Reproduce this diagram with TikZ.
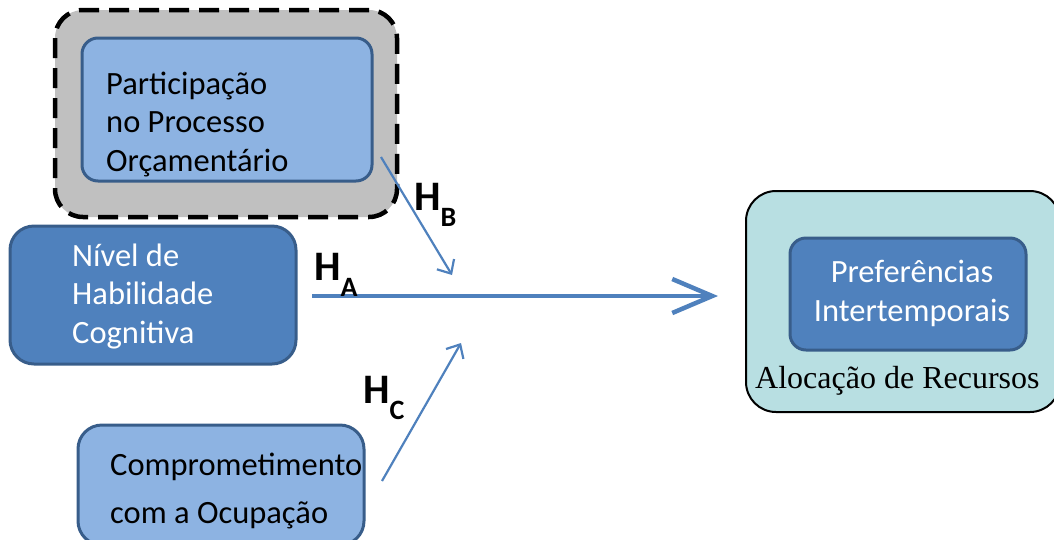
\documentclass[tikz,border=0pt]{standalone}
\usepackage{fontspec}
\setmainfont{Carlito}
\newfontfamily\timesfont{Liberation Serif}
\usetikzlibrary{arrows.meta}
\usetikzlibrary{positioning}
\definecolor{lightblue}{HTML}{8DB3E2}
\definecolor{midblue}{HTML}{4F81BD}
\definecolor{darkblue}{HTML}{385D8A}
\definecolor{greyfill}{HTML}{C0C0C0}
\definecolor{tealfill}{HTML}{B8DFE2}
\tikzset{box/.style = {rectangle, rounded corners=16pt, draw=darkblue,
                       line width=3pt, inner sep=0}}
\tikzset{boxtext/.style = {align=left, font=\fontsize{32.5}{38.5}\selectfont,
                           anchor=base west, inner sep=0}}
\tikzset{hyp/.style = {anchor=base west, inner sep=0,
                       font=\fontsize{42}{42}\selectfont\bfseries}}
\tikzset{link/.style = {draw=midblue, line width=2.2pt,
                        -{Straight Barb[length=11pt, width=20pt]}}}
\newcommand{\hsub}[1]{H\raisebox{-16pt}{\fontsize{28}{28}\selectfont #1}}

\begin{document}
\begin{tikzpicture}[x=1pt, y=-1pt]
    \useasboundingbox (0, 0) rectangle (1054, 539);
    \clip (0, 0) rectangle (1054, 539);

    \node [rectangle, rounded corners=28pt, fill=greyfill, draw, line width=4.5pt,
           dash pattern=on 20pt off 10pt, minimum width=342pt, minimum height=207pt]
          (group) at (226, 113.5) {};
    \node [box, fill=lightblue, minimum width=290pt, minimum height=143pt]
          (part) at (227, 109.5) {};
    \node [boxtext] (parttext) at (106, 171) {Participação\\no Processo\\Orçamentário};

    \node [box, rounded corners=24pt, fill=midblue, minimum width=286pt, minimum height=138pt]
          (nivel) at (153, 295) {};
    \node [boxtext, text=white] (niveltext) at (72, 343) {Nível de\\Habilidade\\Cognitiva};

    \node [box, rounded corners=24pt, fill=lightblue, minimum width=286pt, minimum height=120pt]
          (comp) at (221, 485) {};
    \node [boxtext, font=\fontsize{32.5}{48}\selectfont] (comptext) at (110, 523)
          {Comprometimento\\com a Ocupação};

    \node [rectangle, rounded corners=30pt, fill=tealfill, draw, line width=2pt,
           minimum width=314pt, minimum height=221pt] (aloc) at (903, 301.5) {};
    \node [box, fill=midblue, minimum width=236pt, minimum height=112pt]
          (pref) at (908, 294) {};
    \node [boxtext, align=center, anchor=base, text=white] (preftext) at (912, 321)
          {Preferências\\Intertemporais};
    \node [anchor=base west, inner sep=0, font=\timesfont\fontsize{32}{32}\selectfont]
          (aloctext) at (755, 388) {Alocação de Recursos};

    % hypotheses
    \coordinate (aStart) at (312, 296);
    \coordinate (aEnd) at (718, 296);
    \coordinate (bStart) at (381, 157);
    \coordinate (bEnd) at (452, 275);
    \coordinate (cStart) at (382, 481);
    \coordinate (cEnd) at (461, 343);
    \draw [draw=midblue, line width=4pt,
           -{Straight Barb[length=40pt, width=34pt, line width=4.5pt]}] (aStart) -- (aEnd);
    \draw [link] (bStart) -- (bEnd);
    \draw [link] (cStart) -- (cEnd);
    \node [hyp] (ha) at (314, 280) {\hsub{A}};
    \node [hyp] (hb) at (414, 210) {\hsub{B}};
    \node [hyp] (hc) at (363, 403) {\hsub{C}};
\end{tikzpicture}
\end{document}
